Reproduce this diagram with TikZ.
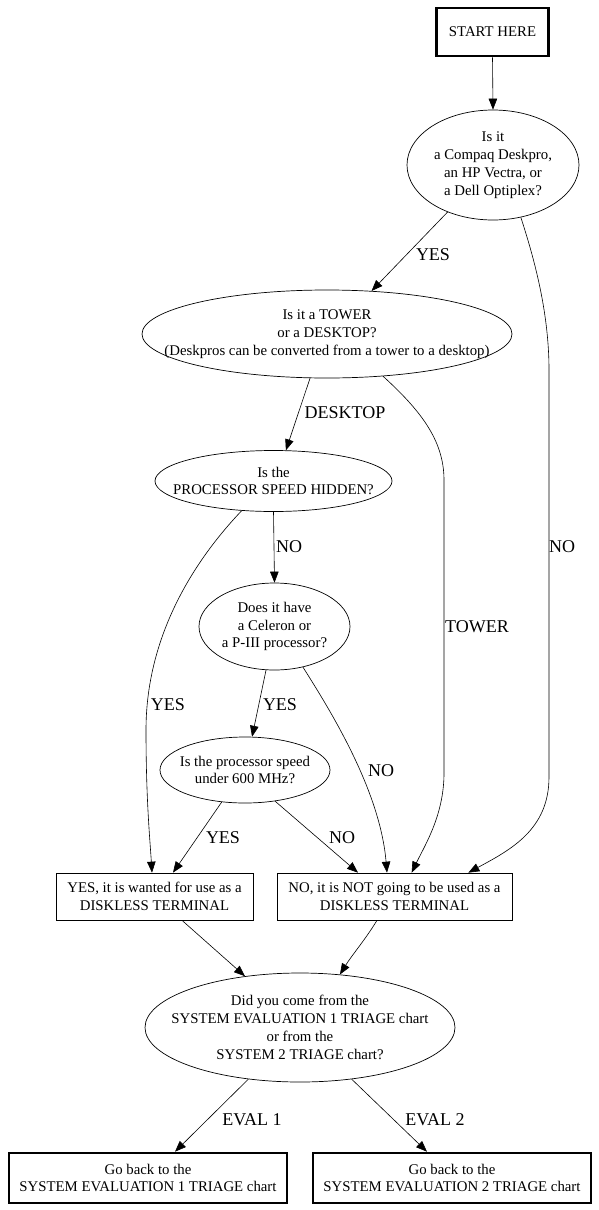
\documentclass[tikz,border=0pt]{standalone}
\usepackage{fontspec}
\setmainfont{Liberation Serif}
\usetikzlibrary{shapes.geometric,arrows.meta}
\begin{document}
\begin{tikzpicture}[x=1pt,y=-1pt,
  txt/.style={font=\fontsize{14.8}{17.8}\selectfont, align=center, inner sep=0},
  oval/.style={ellipse, draw, line width=0.7pt, inner sep=0},
  box/.style={rectangle, draw, line width=0.7pt, inner sep=0, font=\fontsize{14.8}{17.8}\selectfont, align=center, minimum height=47pt},
  bigbox/.style={box, line width=2.6pt, minimum height=50pt},
  lab/.style={font=\fontsize{18}{20}\selectfont, inner sep=0},
  arr/.style={draw, line width=0.6pt, -{Triangle[length=11pt,width=8.5pt]}},
]
\fill[white] (0,0) rectangle (599,1210);
\useasboundingbox (0,0) rectangle (599,1210);

% nodes
\node[bigbox, minimum width=112pt, minimum height=48pt] (start) at (492.5,32) {START HERE};
\node[oval, minimum width=172pt, minimum height=110pt,
  label={[txt]center:{Is it\\a Compaq Deskpro,\\an HP Vectra, or\\a Dell Optiplex?}}] (q1) at (493,165) {};
\node[oval, minimum width=370pt, minimum height=88pt,
  label={[txt]center:{Is it a TOWER\\or a DESKTOP?\\(Deskpros can be converted from a tower to a desktop)}}] (q2) at (327,334) {};
\node[oval, minimum width=237pt, minimum height=61pt,
  label={[txt]center:{Is the\\PROCESSOR SPEED HIDDEN?}}] (q3) at (273.5,481) {};
\node[oval, minimum width=151pt, minimum height=87pt,
  label={[txt]center:{Does it have\\a Celeron or\\a P-III processor?}}] (q4) at (274.5,626.5) {};
\node[oval, minimum width=170pt, minimum height=66pt,
  label={[txt]center:{Is the processor speed\\under 600 MHz?}}] (q5) at (245,770) {};
\node[box, minimum width=197pt] (yes) at (154.5,896.5) {YES, it is wanted for use as a\\DISKLESS TERMINAL};
\node[box, minimum width=235pt] (no) at (394.5,896.5) {NO, it is NOT going to be used as a\\DISKLESS TERMINAL};
\node[oval, minimum width=310pt, minimum height=109pt,
  label={[txt]center:{Did you come from the\\SYSTEM EVALUATION 1 TRIAGE chart\\or from the\\SYSTEM 2 TRIAGE chart?}}] (q6) at (300,1027.5) {};
\node[bigbox, minimum width=278pt] (e1) at (148,1178) {Go back to the\\SYSTEM EVALUATION 1 TRIAGE chart};
\node[bigbox, minimum width=278pt] (e2) at (452,1178) {Go back to the\\SYSTEM EVALUATION 2 TRIAGE chart};

% edges
\draw[arr] (start.south) -- (q1.north);
\draw[arr] (q1.-134) -- (q2.44);
\draw[arr] (q1.-62.6) .. controls (533,255) and (549,310) .. (549,370) -- (549,777)
  .. controls (549,830) and (510,850) .. ([xshift=-44pt]no.north east);
\draw[arr] (q2.-111) -- (q3.68);
\draw[arr] (q2.-37) .. controls (420,410) and (444,440) .. (444,480) -- (444,773)
  .. controls (444,815) and (425,845) .. ([xshift=135pt]no.north west);
\draw[arr] (q3.south) -- (q4.north);
\draw[arr] (q3.-137) .. controls (190,565) and (146,640) .. (146,730)
  .. controls (146,800) and (150,840) .. ([xshift=-2.5pt]yes.north);
\draw[arr] (q4.-101) -- (q5.78);
\draw[arr] (q4.-55) .. controls (330,710) and (380,790) .. ([xshift=-7.5pt]no.north);
\draw[arr] (q5.-126) -- ([xshift=18.5pt]yes.north);
\draw[arr] (q5.-46) -- ([xshift=-36.5pt]no.north);
\draw[arr] ([xshift=27.5pt]yes.south) -- (q6.137);
\draw[arr] ([xshift=-17.5pt]no.south) .. controls (365,940) and (352,955) .. (q6.53);
\draw[arr] (q6.-135) -- ([xshift=27pt]e1.north);
\draw[arr] (q6.-45) -- ([xshift=-25pt]e2.north);

% edge labels
\node[lab] (l1) at (433,255) {YES};
\node[lab] (l2) at (562,547) {NO};
\node[lab] (l3) at (345,413) {DESKTOP};
\node[lab] (l4) at (477,627) {TOWER};
\node[lab] (l5) at (289,547) {NO};
\node[lab] (l6) at (168,705) {YES};
\node[lab] (l7) at (280,705) {YES};
\node[lab] (l8) at (381,771) {NO};
\node[lab] (l9) at (223,838) {YES};
\node[lab] (l10) at (342,838) {NO};
\node[lab] (l11) at (252,1120) {EVAL 1};
\node[lab] (l12) at (435,1120) {EVAL 2};
\end{tikzpicture}
\end{document}
